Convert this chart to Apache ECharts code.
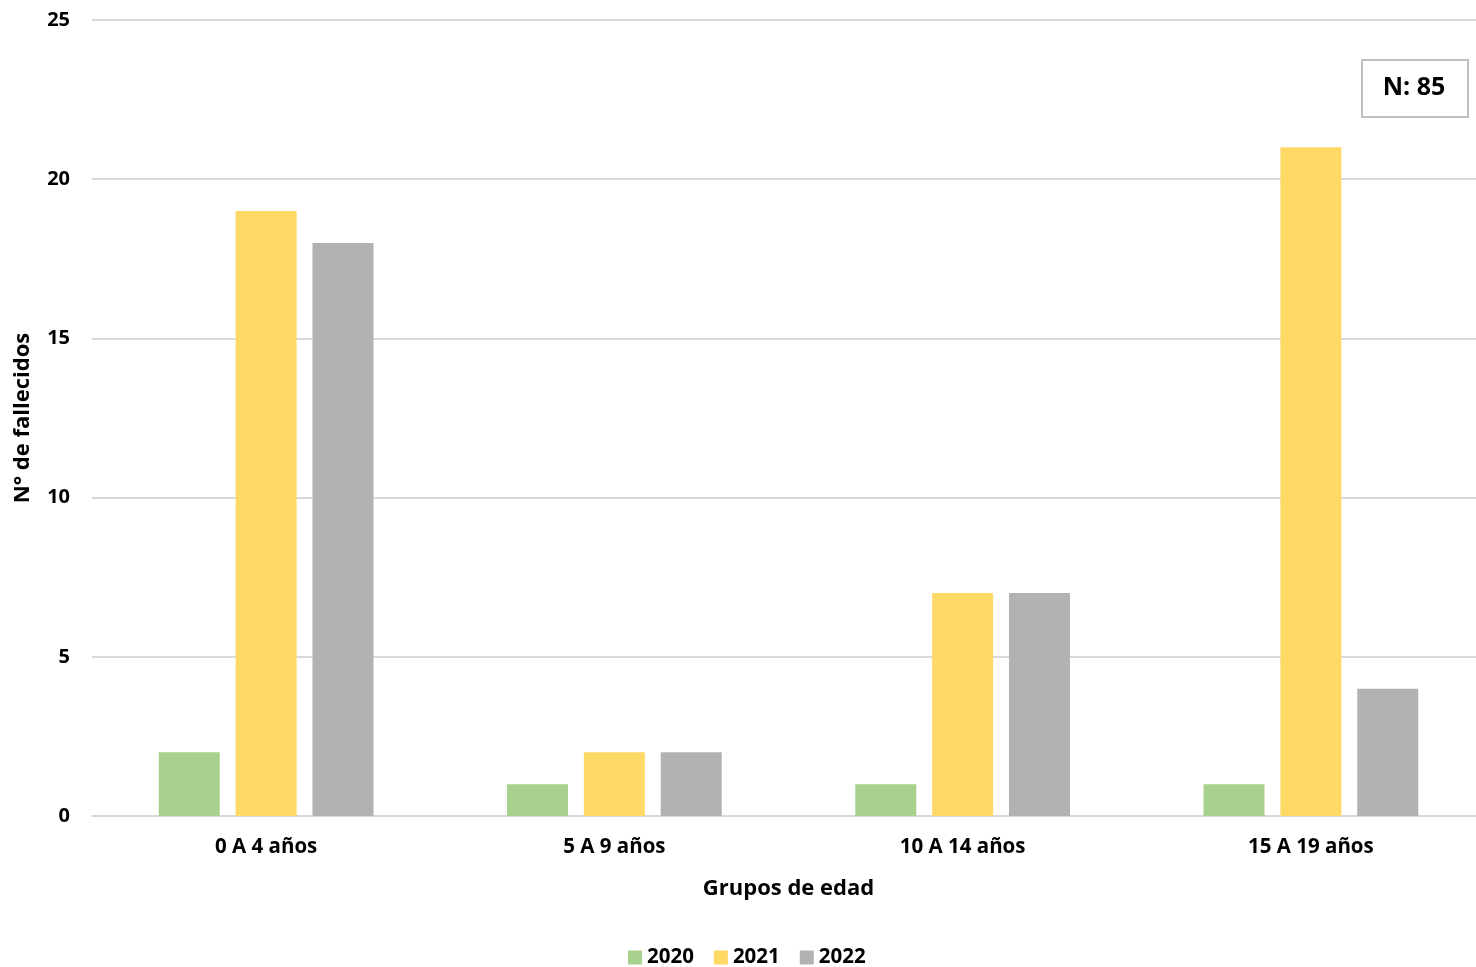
<!DOCTYPE html>
<html>
<head>
<meta charset="utf-8">
<script src="https://cdn.jsdelivr.net/npm/echarts@6/dist/echarts.min.js"></script>
<style>html,body{margin:0;padding:0;background:#fff}#c{width:1476px;height:967px}</style>
</head>
<body>
<div id="c"></div>
<script>
const categories = ['0 A 4 años', '5 A 9 años', '10 A 14 años', '15 A 19 años'];
const seriesNames = ['2020', '2021', '2022'];
const values2020 = [2, 1, 1, 1];
const values2021 = [19, 2, 7, 21];
const values2022 = [18, 2, 7, 4];
const yTicks = [0, 5, 10, 15, 20, 25];
const colors = ['#A9D18E', '#FFD966', '#B2B2B2'];
const FONT = '"Open Sans", "Noto Sans", sans-serif';

const chart = echarts.init(document.getElementById('c'));
const allValues = [values2020, values2021, values2022];
chart.setOption({
  animation: false,
  textStyle: { fontFamily: FONT },
  grid: { left: 92, top: 20, width: 1393, height: 796, containLabel: false, outerBoundsMode: 'none' },
  legend: {
    top: 942, left: 623,
    itemWidth: 14, itemHeight: 14, itemGap: 20,
    icon: 'rect',
    textStyle: { fontSize: 20.5, fontWeight: 'bold', color: '#000', fontFamily: FONT, padding: [0, 0, 0, 0] },
    data: seriesNames
  },
  xAxis: {
    type: 'category',
    data: categories,
    name: 'Grupos de edad',
    nameLocation: 'middle',
    nameGap: 62,
    nameTextStyle: { fontSize: 22, fontWeight: 'bold', color: '#000', fontFamily: FONT },
    axisLine: { lineStyle: { color: '#D9D9D9', width: 2 } },
    axisTick: { show: false },
    axisLabel: { fontSize: 20.5, fontWeight: 'bold', color: '#000', margin: 21, fontFamily: FONT }
  },
  yAxis: {
    type: 'value',
    min: yTicks[0], max: yTicks[yTicks.length - 1], interval: 5,
    name: 'N° de fallecidos',
    nameLocation: 'middle',
    nameGap: 58,
    nameTextStyle: { fontSize: 22, fontWeight: 'bold', color: '#000', fontFamily: FONT },
    axisLine: { show: false },
    axisTick: { show: false },
    axisLabel: { fontSize: 20, fontWeight: 'bold', color: '#000', margin: 22, fontFamily: FONT },
    splitLine: { lineStyle: { color: '#D9D9D9', width: 2 } }
  },
  series: seriesNames.map((n, i) => ({
    name: n,
    type: 'bar',
    data: allValues[i],
    itemStyle: { color: colors[i] },
    barWidth: 61,
    barGap: '26%'
  })),
  graphic: [{
    type: 'group',
    left: 1361, top: 59,
    children: [
      { type: 'rect', shape: { x: 0, y: 0, width: 106, height: 57 }, style: { fill: '#fff', stroke: '#BFBFBF', lineWidth: 2 } },
      { type: 'text', x: 52, y: 28, style: { text: 'N: 85', fill: '#000', font: 'bold 25px ' + FONT, textAlign: 'center', textVerticalAlign: 'middle' } }
    ]
  }]
});
</script>
</body>
</html>
